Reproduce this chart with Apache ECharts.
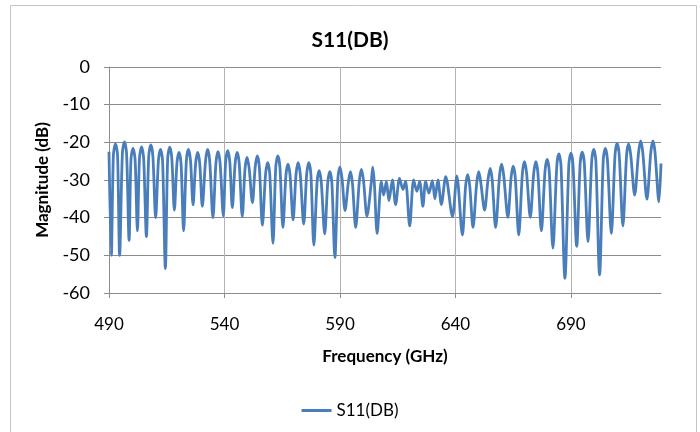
<!DOCTYPE html>
<html>
<head>
<meta charset="utf-8">
<title>S11(DB)</title>
<script src="https://cdn.jsdelivr.net/npm/echarts@6.0.0/dist/echarts.min.js"></script>
<style>
  html, body { margin: 0; padding: 0; background: #fff; }
  #s11Chart { width: 700px; height: 432px; }
</style>
</head>
<body>
<div id="s11Chart"></div>
<script>
// axis ticks
const xTicks = [490, 540, 590, 640, 690];
const yTicks = [0, -10, -20, -30, -40, -50, -60];
const seriesName = "S11(DB)";

// [frequency (GHz), magnitude (dB)]
const s11Low = [
  [490.0, -22.5], [491.0, -50.0],
  [491.9, -23.4], [492.8, -20.4], [493.7, -23.4], [494.6, -50.0],
  [495.8, -22.9], [496.7, -19.9], [497.6, -22.9], [498.7, -46.0],
  [499.5, -24.6], [500.4, -21.6], [501.3, -24.6], [502.3, -43.5],
  [503.2, -24.2], [504.1, -21.2], [505.0, -24.2], [506.2, -45.0],
  [507.2, -23.7], [508.1, -20.7], [509.0, -23.7], [510.2, -40.0],
  [511.4, -24.9], [512.3, -21.9], [513.2, -24.9], [514.4, -53.5],
  [515.4, -24.3], [516.3, -21.3], [517.2, -24.3], [518.3, -38.0],
  [519.4, -25.7], [520.3, -22.7], [521.2, -25.7], [522.3, -43.5],
  [523.5, -24.9], [524.4, -21.9], [525.3, -24.9], [526.4, -36.6],
  [527.5, -25.7], [528.4, -22.7], [529.3, -25.7], [530.4, -37.0],
  [531.8, -24.9], [532.7, -21.9], [533.6, -24.9], [535.0, -40.0],
  [536.3, -25.5], [537.2, -22.5], [538.1, -25.5], [539.5, -39.5],
  [540.5, -25.2], [541.4, -22.2], [542.3, -25.2], [543.4, -37.3],
  [544.6, -25.7], [545.5, -22.7], [546.4, -25.7], [547.7, -39.7],
  [548.9, -27.0], [549.8, -24.0], [550.7, -27.0], [552.1, -36.0],
  [553.3, -26.6], [554.2, -23.6], [555.1, -26.6], [556.4, -42.0],
  [557.8, -28.4], [558.7, -25.4], [559.6, -28.4], [561.0, -46.8],
  [562.2, -26.6], [563.1, -23.6], [564.0, -26.6], [565.3, -42.6],
  [566.6, -28.8], [567.5, -25.8], [568.4, -28.8], [569.7, -40.6],
  [571.0, -28.4], [571.9, -25.4], [572.8, -28.4], [574.3, -41.7],
  [575.6, -28.4], [576.5, -25.4], [577.4, -28.4], [578.7, -47.3],
  [580.1, -30.5], [581.0, -27.5], [581.9, -30.5], [583.4, -44.3],
  [584.7, -30.8], [585.6, -27.8], [586.5, -30.8], [587.8, -50.6],
  [589.1, -29.6], [590.0, -26.6], [590.9, -29.6], [592.2, -38.1],
  [593.6, -30.8], [594.5, -27.8], [595.4, -30.8], [596.8, -42.6],
  [598.4, -30.2], [599.3, -27.2], [600.2, -30.2], [601.7, -39.6],
  [603.5, -31.0], [604.2, -26.6], [604.9, -31.0], [606.1, -44.2]
];

const s11Mid = [
  [607.9, -30.4], [608.9, -34.0], [610.1, -30.4], [611.2, -35.5],
  [612.7, -30.0], [614.1, -36.5], [615.8, -29.6], [617.3, -32.5],
  [618.4, -30.4], [620.2, -42.2], [621.9, -30.0], [623.3, -33.0],
  [624.5, -30.4], [625.9, -37.0], [627.1, -30.4], [628.5, -33.5],
  [630.0, -30.2], [631.1, -35.0], [632.4, -30.0], [633.9, -36.5],
  [635.8, -29.1], [638.7, -39.7], [640.6, -28.9], [643.0, -44.6]
];

const s11High = [
  [644.4, -31.6], [645.3, -28.6], [646.2, -31.6], [647.6, -42.6],
  [649.2, -30.8], [650.1, -27.8], [651.0, -30.8], [652.6, -38.0],
  [654.1, -29.9], [655.0, -26.9], [655.9, -29.9], [657.4, -42.6],
  [659.1, -28.8], [660.0, -25.8], [660.9, -28.8], [662.7, -39.9],
  [664.1, -29.3], [665.0, -26.3], [665.9, -29.3], [667.4, -44.6],
  [669.0, -28.1], [669.9, -25.1], [670.8, -28.1], [672.4, -39.9],
  [673.9, -28.1], [674.8, -25.1], [675.7, -28.1], [677.2, -43.5],
  [678.8, -27.5], [679.7, -24.5], [680.6, -27.5], [682.2, -48.1],
  [683.9, -26.1], [684.8, -23.1], [685.7, -26.1], [687.4, -56.1],
  [689.1, -25.9], [690.0, -22.9], [690.9, -25.9], [692.5, -47.6],
  [694.0, -25.6], [694.9, -22.6], [695.8, -25.6], [697.4, -46.4],
  [699.0, -24.9], [699.9, -21.9], [700.8, -24.9], [702.4, -55.2],
  [704.0, -24.6], [704.9, -21.6], [705.8, -24.6], [707.5, -44.2],
  [709.1, -23.3], [710.0, -20.3], [710.9, -23.3], [712.5, -42.2],
  [714.1, -23.4], [715.0, -20.4], [715.9, -23.4], [717.6, -34.0],
  [719.3, -22.6], [720.2, -19.6], [721.1, -22.6], [722.9, -35.1],
  [724.6, -22.6], [725.5, -19.6], [726.4, -22.6], [728.1, -35.8],
  [729.0, -25.6]
];

const s11Data = s11Low.concat(s11Mid, s11High);

const fontFamily = 'Lato, "Liberation Sans", sans-serif';
const gridColor = "#8c8c8c";

var myChart = echarts.init(document.getElementById("s11Chart"), null, { renderer: "canvas" });
let option = {
  animation: false,
  backgroundColor: "#fff",
  textStyle: { fontFamily: fontFamily, color: "#000" },
  title: {
    text: "S11(DB)",
    left: "center",
    top: 25,
    textStyle: { fontFamily: fontFamily, fontSize: 21, fontWeight: "bold", color: "#000" }
  },
  legend: {
    data: [seriesName],
    top: 397,
    left: "center",
    icon: "rect",
    itemWidth: 30,
    itemHeight: 3,
    textStyle: { fontFamily: fontFamily, fontSize: 17, color: "#000" }
  },
  grid: { left: 109, right: 39, top: 67, bottom: 139 },
  xAxis: {
    type: "value",
    min: xTicks[0],
    max: 729,
    interval: 50,
    name: "Frequency (GHz)",
    nameLocation: "middle",
    nameGap: 55,
    nameTextStyle: { fontFamily: fontFamily, fontSize: 17, fontWeight: "bold", color: "#000" },
    axisLine: { onZero: false, lineStyle: { color: gridColor } },
    axisTick: { show: true, length: 5, lineStyle: { color: gridColor } },
    axisLabel: {
      margin: 23,
      fontSize: 17,
      color: "#000",
      showMaxLabel: false,
      formatter: function (v) { return xTicks.indexOf(v) >= 0 ? String(v) : ""; }
    },
    splitLine: { show: true, showMaxLine: false, lineStyle: { color: "#b4b4b4" } }
  },
  yAxis: {
    type: "value",
    min: yTicks[yTicks.length - 1],
    max: yTicks[0],
    interval: 10,
    name: "Magnitude (dB)",
    nameLocation: "middle",
    nameGap: 58,
    nameTextStyle: { fontFamily: fontFamily, fontSize: 17, fontWeight: "bold", color: "#000" },
    axisLine: { show: true, lineStyle: { color: gridColor } },
    axisTick: { show: true, length: 5, lineStyle: { color: gridColor } },
    axisLabel: { margin: 19, fontSize: 18, color: "#000" },
    splitLine: { show: true, lineStyle: { color: gridColor } }
  },
  graphic: [
    {
      type: "rect",
      shape: { x: 10.5, y: 5.5, width: 686, height: 440 },
      style: { fill: null, stroke: "#c4c4c4", lineWidth: 1 },
      silent: true
    }
  ],
  series: [
    {
      name: seriesName,
      type: "line",
      data: s11Data,
      showSymbol: false,
      smooth: 0.3,
      lineStyle: { color: "#4a7ebb", width: 2.8 },
      itemStyle: { color: "#4a7ebb" }
    }
  ]
};

if (option && typeof option === "object") {
  myChart.clear();
  myChart.setOption(option, true);
}
</script>
</body>
</html>
